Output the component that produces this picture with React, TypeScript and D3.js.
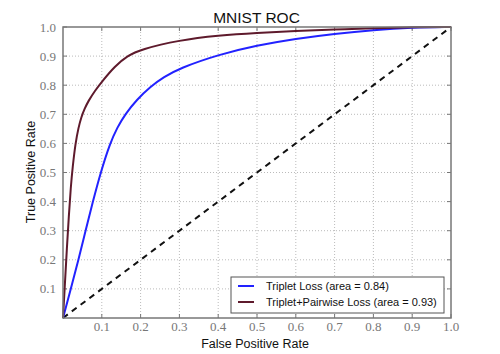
import * as d3 from 'd3';

// ROC points (false positive rate, true positive rate)
const tripletFpr = [0, 0.02, 0.04, 0.058, 0.077, 0.097, 0.121, 0.14, 0.16, 0.19, 0.225, 0.26, 0.3, 0.4, 0.5, 0.6, 0.7, 0.8, 0.9, 1.0];
const tripletTpr = [0, 0.1, 0.2, 0.3, 0.4, 0.5, 0.6, 0.655, 0.7, 0.75, 0.795, 0.828, 0.858, 0.905, 0.937, 0.96, 0.977, 0.99, 0.998, 1.0];

const pairFpr = [0, 0.005, 0.01, 0.015, 0.02, 0.025, 0.032, 0.04, 0.047, 0.056, 0.065, 0.083, 0.1, 0.134, 0.165, 0.2, 0.3, 0.4, 0.5, 0.6, 0.7, 0.8, 0.9, 1.0];
const pairTpr = [0, 0.12, 0.24, 0.35, 0.45, 0.52, 0.6, 0.655, 0.69, 0.72, 0.745, 0.782, 0.812, 0.866, 0.9, 0.923, 0.955, 0.971, 0.98, 0.986, 0.991, 0.996, 1.0, 1.0];

const tickValues = [0.1, 0.2, 0.3, 0.4, 0.5, 0.6, 0.7, 0.8, 0.9, 1.0];
const gridValues = [0.1, 0.2, 0.3, 0.4, 0.5, 0.6, 0.7, 0.8, 0.9];

const seriesNames = ['Triplet Loss (area = 0.84)', 'Triplet+Pairwise Loss (area = 0.93)'];
const seriesColors = ['#2222ff', '#5e1a2c'];

const width = 500;
const height = 354;
const margin = { top: 27, right: 50, bottom: 36, left: 63 };

const App = () => {
  const x = d3.scaleLinear().domain([0, 1]).range([margin.left, width - margin.right + 1]);
  const y = d3.scaleLinear().domain([0, 1]).range([height - margin.bottom, margin.top]);

  const line = d3.line<[number, number]>()
    .x(d => x(d[0]))
    .y(d => y(d[1]))
    .curve(d3.curveBasis);

  const series = [
    tripletFpr.map((f, i) => [f, tripletTpr[i]] as [number, number]),
    pairFpr.map((f, i) => [f, pairTpr[i]] as [number, number]),
  ];

  const x0 = x(0), x1 = x(1), y0 = y(0), y1 = y(1);
  const tickFont = '"Liberation Serif", serif';
  const sansFont = '"Liberation Sans", Arial, sans-serif';

  return (
    <div style={{ position: 'fixed', left: 0, top: 0 }}>
      <svg width={width} height={height} style={{ display: 'block', background: '#fff' }}>
        {/* grid */}
        {gridValues.map(v => (
          <g key={'g' + v}>
            <line x1={x(v)} x2={x(v)} y1={y0} y2={y1} stroke="#bbb" strokeWidth={1} strokeDasharray="1,2" />
            <line x1={x0} x2={x1} y1={y(v)} y2={y(v)} stroke="#bbb" strokeWidth={1} strokeDasharray="1,2" />
          </g>
        ))}

        {/* inward ticks on all sides */}
        {tickValues.map(v => (
          <g key={'t' + v} stroke="#777" strokeWidth={1}>
            <line x1={x(v)} x2={x(v)} y1={y0} y2={y0 - 4} />
            <line x1={x(v)} x2={x(v)} y1={y1} y2={y1 + 4} />
            <line x1={x0} x2={x0 + 4} y1={y(v)} y2={y(v)} />
            <line x1={x1} x2={x1 - 4} y1={y(v)} y2={y(v)} />
          </g>
        ))}

        {/* chance diagonal */}
        <line x1={x0} y1={y0} x2={x1} y2={y1} stroke="#111" strokeWidth={2} strokeDasharray="6,5" />

        {/* ROC curves */}
        {series.map((s, i) => (
          <path key={'s' + i} d={line(s) ?? ''} fill="none" stroke={seriesColors[i]} strokeWidth={2} strokeLinejoin="round" />
        ))}

        {/* frame */}
        <rect x={x0} y={y1} width={x1 - x0} height={y0 - y1} fill="none" stroke="#777" strokeWidth={1.5} />

        {/* tick labels */}
        {tickValues.map(v => (
          <text key={'xl' + v} x={x(v)} y={y0 + 13} textAnchor="middle" fontFamily={tickFont} fontSize={13} fill="#777">
            {d3.format('.1f')(v)}
          </text>
        ))}
        {tickValues.map(v => (
          <text key={'yl' + v} x={x0 - 7} y={y(v) + 4.5} textAnchor="end" fontFamily={tickFont} fontSize={13} fill="#777">
            {d3.format('.1f')(v)}
          </text>
        ))}

        {/* title and axis labels */}
        <text x={256.5} y={22.5} textAnchor="middle" fontFamily={sansFont} fontSize={15.5} fill="#111">MNIST ROC</text>
        <text x={255} y={348} textAnchor="middle" fontFamily={sansFont} fontSize={12.5} fill="#111">False Positive Rate</text>
        <text transform={`translate(35,172) rotate(-90)`} textAnchor="middle" fontFamily={sansFont} fontSize={12.5} fill="#111">True Positive Rate</text>

        {/* legend */}
        <rect x={231} y={277} width={213} height={36} fill="#fff" stroke="#555" strokeWidth={1} />
        {seriesNames.map((name, i) => (
          <g key={'lg' + i}>
            <line x1={238} x2={254} y1={286 + i * 16} y2={286 + i * 16} stroke={seriesColors[i]} strokeWidth={2} />
            <text x={266} y={290 + i * 16} fontFamily={sansFont} fontSize={11} fill="#111">{name}</text>
          </g>
        ))}
      </svg>
    </div>
  );
};

export default App;
